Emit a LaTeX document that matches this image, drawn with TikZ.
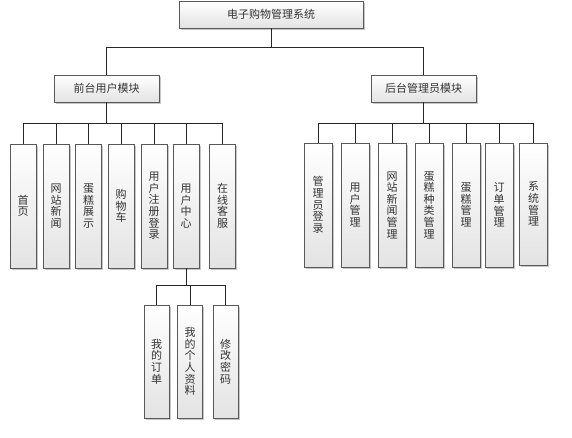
\documentclass[tikz,border=0pt]{standalone}
\usepackage{fontspec}
\setmainfont{Noto Sans CJK SC}
\usetikzlibrary{shadows}
\begin{document}
\begin{tikzpicture}[x=1pt,y=-1pt,
  box/.style={draw=gray!70!black, line width=0.7pt, top color=white, bottom color=gray!22,
    drop shadow={shadow xshift=1.5pt, shadow yshift=-1.5pt, fill=gray!55, opacity=0.8},
    inner sep=0pt, text=black!80, font=\fontsize{11}{11.6}\selectfont, align=center},
  hbox/.style={box, minimum height=27pt},
  vbox/.style={box, minimum width=26pt, minimum height=124pt},
  sbox/.style={box, minimum width=25pt, minimum height=113pt},
  conn/.style={draw=black!85, line width=0.8pt}]
\useasboundingbox (0,0) rectangle (572,437);
\node[hbox, minimum width=184pt] (top) at (271,14.5) {电子购物管理系统};
\node[hbox, minimum width=105pt] (L) at (106.5,88.5) {前台用户模块};
\node[hbox, minimum width=105pt] (R) at (423.5,88.5) {后台管理员模块};
% left children
\node[vbox] (l1) at (23,206) {首\\页};
\node[vbox] (l2) at (56,206) {网\\站\\新\\闻};
\node[vbox] (l3) at (88.5,206) {蛋\\糕\\展\\示};
\node[vbox] (l4) at (121,206) {购\\物\\车};
\node[vbox] (l5) at (154,206) {用\\户\\注\\册\\登\\录};
\node[vbox] (l6) at (186,206) {用\\户\\中\\心};
\node[vbox] (l7) at (222.5,206) {在\\线\\客\\服};
% right children
\node[vbox, minimum width=28pt] (r1) at (318,205) {管\\理\\员\\登\\录};
\node[vbox, minimum width=28pt] (r2) at (355,205) {用\\户\\管\\理};
\node[vbox, minimum width=28pt] (r3) at (392,205) {网\\站\\新\\闻\\管\\理};
\node[vbox, minimum width=28pt] (r4) at (429,205) {蛋\\糕\\种\\类\\管\\理};
\node[vbox, minimum width=28pt] (r5) at (466,205) {蛋\\糕\\管\\理};
\node[vbox, minimum width=28pt] (r6) at (499,205) {订\\单\\管\\理};
\node[vbox, minimum width=28pt, minimum height=122pt] (r7) at (533.5,204) {系\\统\\管\\理};
% sub children
\node[sbox] (s1) at (156.5,361.5) {我\\的\\订\\单};
\node[sbox] (s2) at (190,361.5) {我\\的\\个\\人\\资\\料};
\node[sbox] (s3) at (225.5,361.5) {修\\改\\密\\码};
% connectors
\draw[conn] (top.south) -- ++(0,19) coordinate (b0);
\draw[conn] (b0) -| (L.north);
\draw[conn] (b0) -| (R.north);
\draw[conn] (L.south) -- ++(0,21) coordinate (bL);
\foreach \n in {l1,l2,l3,l4,l5,l6,l7} \draw[conn] (bL) -| (\n.north);
\draw[conn] (R.south) -- ++(0,21) coordinate (bR);
\foreach \n in {r1,r2,r3,r4,r5,r6,r7} \draw[conn] (bR) -| (\n.north);
\draw[conn] (l6.south) -- ++(0,17) coordinate (bS);
\foreach \n in {s1,s2,s3} \draw[conn] (bS) -| (\n.north);
\end{tikzpicture}
\end{document}
